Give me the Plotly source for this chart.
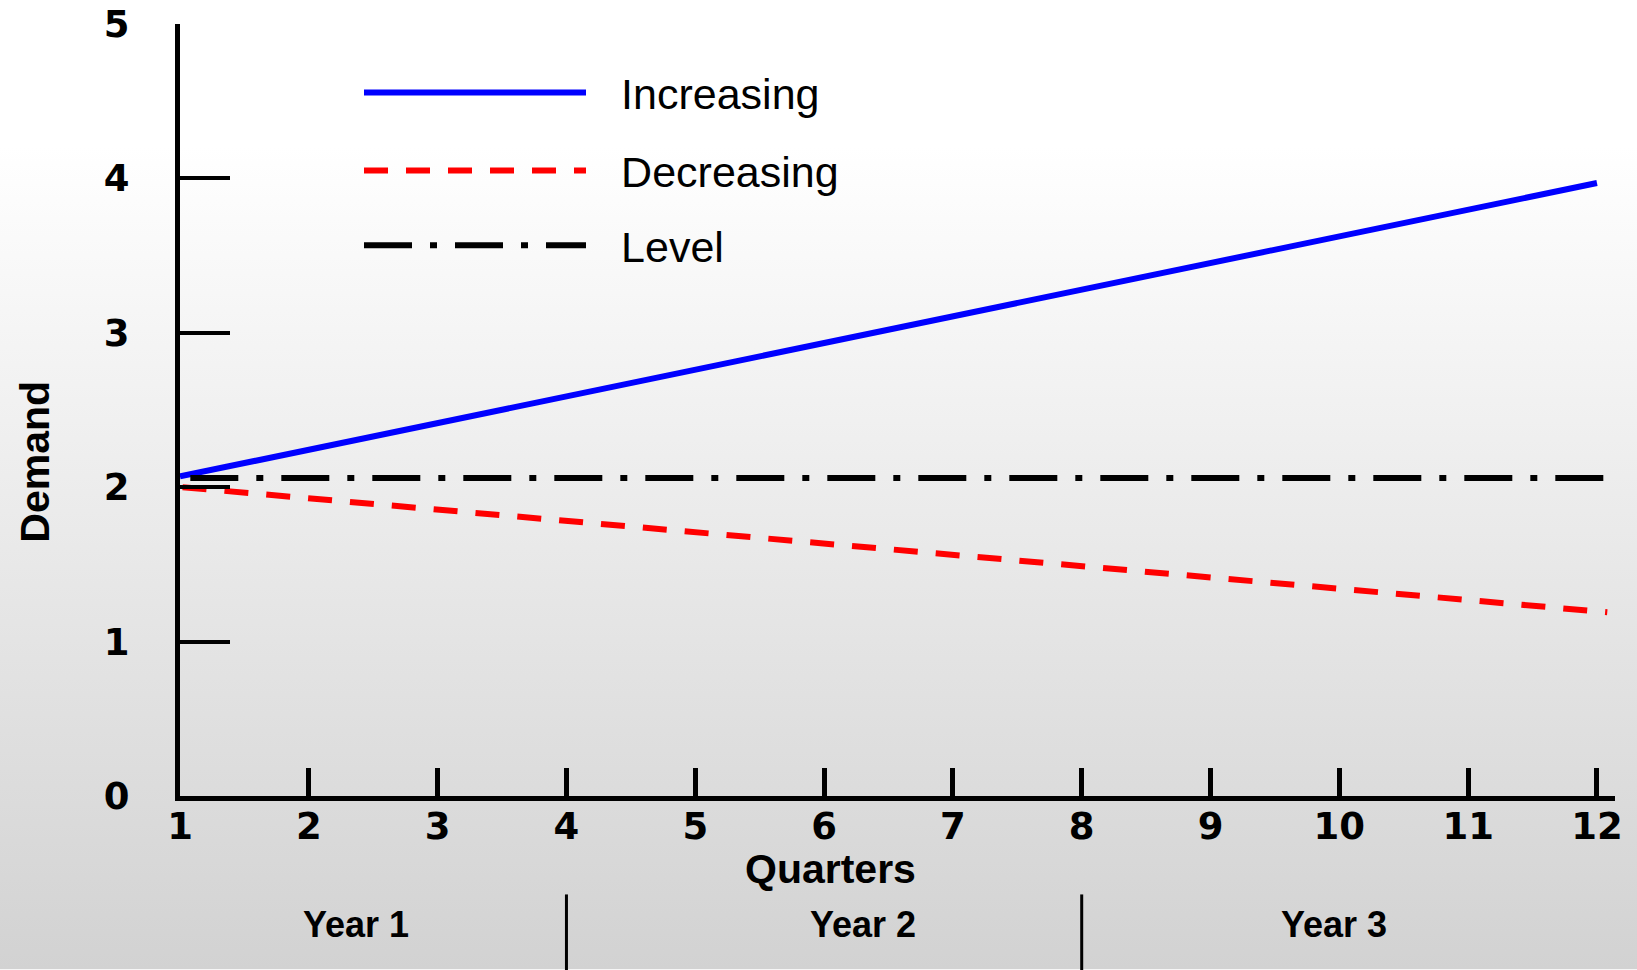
import base64
import plotly.graph_objects as go

# Quarterly demand patterns (demand units), read at the ends of each straight segment
quarters_increasing = [1, 12]
demand_increasing = [2.07, 3.97]

quarters_decreasing = [1.02, 12.08]
demand_decreasing = [2.00, 1.19]

quarters_level = [1.08, 12.12]
demand_level = [2.06, 2.06]

quarter_ticks = list(range(1, 13))
demand_ticks = [0, 1, 2, 3, 4, 5]

# Year bands underneath the quarter axis
year_labels = ["Year 1", "Year 2", "Year 3"]
year_label_pos = [2.37, 6.3, 9.96]
year_boundaries = [4, 8]

W, H = 1637, 970
ML, MR, MT, MB = 180, 22, 24, 173.5
PW, PH = W - ML - MR, H - MT - MB


def px_x(p):
    return (p - ML) / PW


def px_y(p):
    return (MT + PH - p) / PH


tick_font = dict(family="DejaVu Sans", size=37, color="black", weight="bold")
title_font = dict(family="Liberation Sans", size=41, color="black", weight="bold")
year_font = dict(family="Liberation Sans", size=36, color="black", weight="bold")
legend_font = dict(family="Liberation Sans", size=43, color="black")

# small gap between each legend key and its label
GAP = "\u2002\u2009"

fig = go.Figure()
fig.add_trace(go.Scatter(
    x=quarters_increasing, y=demand_increasing, mode="lines", name=GAP + "Increasing",
    legend="legend", line=dict(color="#0000ff", width=6)))
fig.add_trace(go.Scatter(
    x=quarters_decreasing, y=demand_decreasing, mode="lines", name=GAP + "Decreasing",
    legend="legend2", line=dict(color="#ff0000", width=6, dash="24px,18px")))
fig.add_trace(go.Scatter(
    x=quarters_level, y=demand_level, mode="lines", name=GAP + "Level",
    legend="legend3", line=dict(color="black", width=6, dash="48px,18px,7px,18px")))

# soft vertical background gradient behind the whole figure
svg = (
    '<svg xmlns="http://www.w3.org/2000/svg" width="100" height="100" preserveAspectRatio="none">'
    '<defs><linearGradient id="g" x1="0" y1="0" x2="0" y2="1">'
    '<stop offset="0" stop-color="#ffffff"/>'
    '<stop offset="0.15" stop-color="#ffffff"/>'
    '<stop offset="1" stop-color="#d2d2d2"/>'
    '</linearGradient></defs>'
    '<rect width="100" height="100" fill="url(#g)"/></svg>'
)
bg_src = "data:image/svg+xml;base64," + base64.b64encode(svg.encode()).decode()

annotations = [
    dict(text="Demand", textangle=-90, font=title_font, showarrow=False,
         xref="paper", yref="paper", x=px_x(35), y=px_y(462),
         xanchor="center", yanchor="middle"),
    dict(text="Quarters", font=title_font, showarrow=False,
         xref="paper", yref="paper", x=px_x(830), y=px_y(870),
         xanchor="center", yanchor="middle"),
]
for label, pos in zip(year_labels, year_label_pos):
    annotations.append(dict(
        text=label, font=year_font, showarrow=False, xref="x", yref="paper",
        x=pos, y=px_y(925), xanchor="center", yanchor="middle"))

shapes = [
    dict(type="line", xref="x", yref="paper", x0=b, x1=b,
         y0=px_y(895), y1=px_y(972),
         line=dict(color="black", width=3))
    for b in year_boundaries
]


def legend_box(top):
    return dict(
        x=px_x(359), y=px_y(top), xanchor="left", yanchor="top",
        bgcolor="rgba(0,0,0,0)", borderwidth=0, font=legend_font, itemwidth=222,
    )


fig.update_layout(
    width=W, height=H,
    margin=dict(l=ML, r=MR, t=MT, b=MB, autoexpand=False),
    paper_bgcolor="white", plot_bgcolor="rgba(0,0,0,0)",
    images=[dict(source=bg_src, xref="paper", yref="paper",
                 x=px_x(0), y=px_y(0), sizex=W / PW, sizey=H / PH,
                 xanchor="left", yanchor="top", sizing="stretch", layer="below")],
    annotations=annotations,
    shapes=shapes,
    showlegend=True,
    legend=legend_box(58),
    legend2=legend_box(136),
    legend3=legend_box(211),
    xaxis=dict(
        range=[1, 12.14], tickvals=quarter_ticks, ticktext=[str(q) for q in quarter_ticks],
        ticks="inside", ticklen=28, tickwidth=5, tickcolor="black",
        showline=True, linewidth=5, linecolor="black",
        showgrid=False, zeroline=False, tickfont=tick_font, ticklabelstandoff=-6,
    ),
    yaxis=dict(
        range=[0, 5], tickvals=demand_ticks, ticktext=[str(d) for d in demand_ticks],
        ticks="inside", ticklen=50, tickwidth=4, tickcolor="black",
        showline=True, linewidth=5, linecolor="black",
        showgrid=False, zeroline=False, tickfont=tick_font, ticklabelstandoff=38,
    ),
)

fig.write_html("out.html")
